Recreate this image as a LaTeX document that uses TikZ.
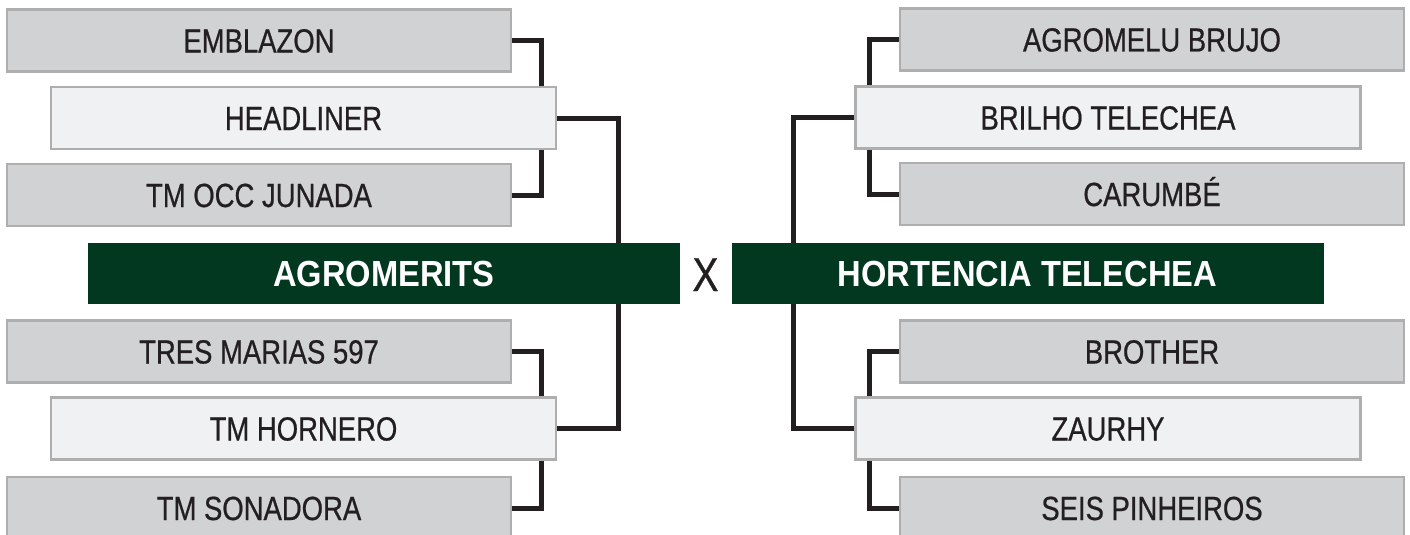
\documentclass[tikz,border=0pt]{standalone}
\usepackage{fontspec}
\newfontfamily\boxfont{Liberation Sans}[FakeStretch=0.82,FakeBold=0.6]
\newfontfamily\boldbox{Liberation Sans Bold}[FakeStretch=0.9]
\definecolor{boxgray}{HTML}{D1D2D4}
\definecolor{boxlight}{HTML}{F0F1F2}
\definecolor{boxedge}{HTML}{AEAEAE}
\definecolor{teamgreen}{HTML}{023820}
\definecolor{ink}{HTML}{231F20}
\tikzset{
  entry/.style={rectangle, draw=boxedge, line width=2.2pt, inner sep=0pt,
    text=ink, font=\boxfont\fontsize{33.5}{40}\selectfont,
    text height=24pt, text depth=0pt, minimum height=62pt},
  outer/.style={entry, fill=boxgray, minimum width=504pt},
  inner/.style={entry, fill=boxlight, minimum width=505pt},
  team/.style={rectangle, fill=teamgreen, inner sep=0pt, text=white,
    font=\boldbox\fontsize{36.3}{42}\selectfont,
    text height=26pt, text depth=0pt, minimum height=61pt, minimum width=592pt},
  conn/.style={draw=ink, line width=5pt, line join=miter, line cap=butt}
}
\begin{document}
\begin{tikzpicture}[x=1pt,y=-1pt]
\useasboundingbox (0,0) rectangle (1410,535);
\clip (0,0) rectangle (1410,535);
% left bracket
\node[outer] (emb)  at (259,40.5)   {EMBLAZON};
\node[inner] (head) at (303.5,118)  {HEADLINER};
\node[outer] (occ)  at (259,195)    {TM OCC JUNADA};
\node[team]  (gL)   at (384,273.5)  {AGROMERITS};
\node[outer] (tres) at (259,351.5)  {TRES MARIAS 597};
\node[inner] (horn) at (303.5,428.5){TM HORNERO};
\node[outer] (sona) at (259,508)    {TM SONADORA};
% right bracket
\node[outer] (agro) at (1152,39.5)  {AGROMELU BRUJO};
\node[inner] (bril) at (1108,117.5) {BRILHO TELECHEA};
\node[outer] (caru) at (1152,194)   {CARUMBÉ};
\node[team]  (gR)   at (1027.5,273.5) {HORTENCIA TELECHEA};
\node[outer] (brot) at (1152,351.5) {BROTHER};
\node[inner] (zaur) at (1108,428.5) {ZAURHY};
\node[outer] (seis) at (1152,508)   {SEIS PINHEIROS};
% versus
\node[font=\boxfont\fontsize{47.5}{50}\selectfont, text=ink, inner sep=0pt,
  text height=34pt, text depth=0pt] (vs) at (705.5,274) {X};
% connector columns
\coordinate (sL) at (541.5,0);
\coordinate (bL) at (618,0);
\coordinate (bR) at (793,0);
\coordinate (sR) at (869.5,0);
% left connectors
\draw[conn] (emb.east) -| (head.north -| sL);
\draw[conn] (occ.east) -| (head.south -| sL);
\draw[conn] (tres.east) -| (horn.north -| sL);
\draw[conn] (sona.east) -| (horn.south -| sL);
\draw[conn] (head.east) -| (gL.north -| bL);
\draw[conn] (horn.east) -| (gL.south -| bL);
% right connectors
\draw[conn] (agro.west) -| (bril.north -| sR);
\draw[conn] (caru.west) -| (bril.south -| sR);
\draw[conn] (brot.west) -| (zaur.north -| sR);
\draw[conn] (seis.west) -| (zaur.south -| sR);
\draw[conn] (bril.west) -| (gR.north -| bR);
\draw[conn] (zaur.west) -| (gR.south -| bR);
\end{tikzpicture}
\end{document}
